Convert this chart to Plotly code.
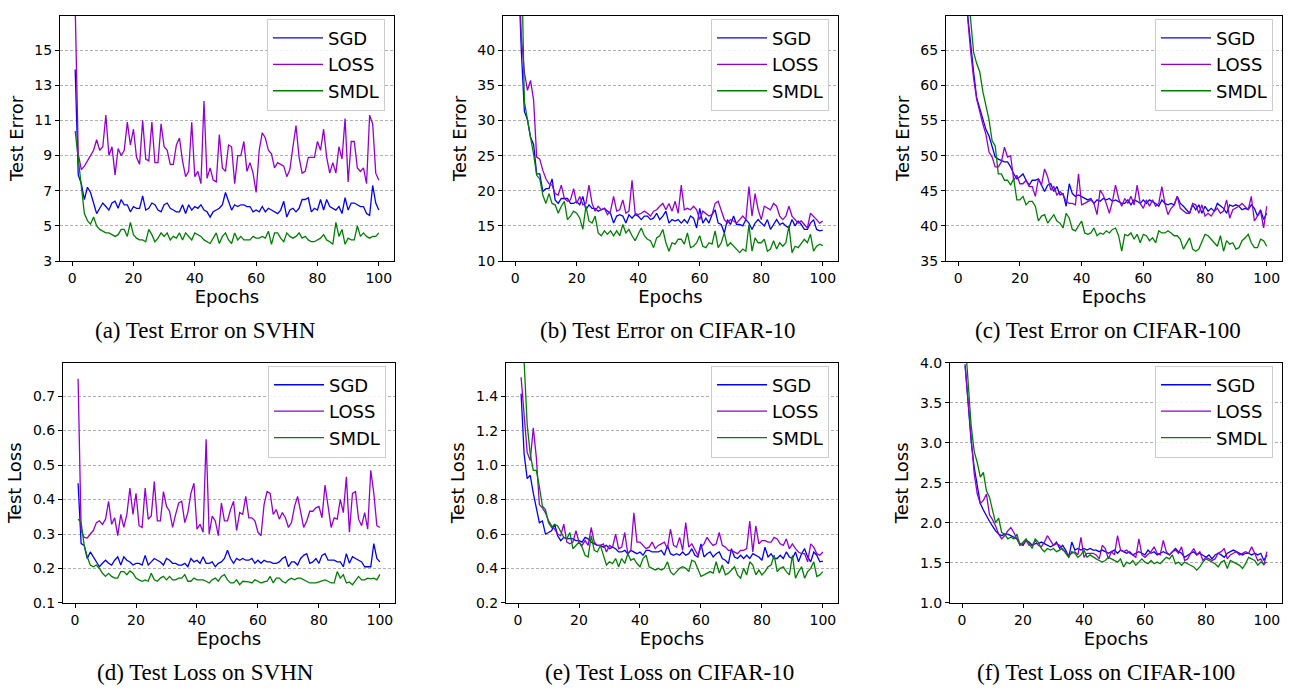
import plotly.graph_objects as go

# ---- data ----
epochs = list(range(1, 101))

sgd_err_svhn = [13.9, 7.9, 7.4, 6.5, 7.2, 6.9, 6.3, 5.7, 6.0, 6.3,
                6.1, 5.9, 6.3, 6.4, 6.0, 6.5, 6.2, 6.2, 5.8, 6.1,
                6.0, 6.0, 6.7, 5.9, 6.0, 6.3, 6.2, 5.9, 5.8, 6.2,
                6.3, 6.0, 5.9, 5.8, 5.8, 6.2, 5.7, 6.2, 5.9, 6.1,
                6.0, 6.2, 5.9, 5.8, 5.5, 5.8, 5.9, 6.0, 6.2, 6.9,
                6.4, 5.9, 6.2, 6.1, 6.2, 6.2, 6.1, 6.1, 5.8, 5.9,
                5.8, 6.1, 5.8, 6.0, 5.9, 5.8, 5.7, 5.9, 6.4, 5.5,
                5.9, 6.0, 5.8, 6.0, 6.5, 6.5, 6.6, 5.8, 6.0, 5.9,
                6.5, 5.9, 6.5, 6.1, 6.0, 5.9, 6.1, 5.7, 6.6, 5.9,
                6.3, 6.3, 6.2, 6.1, 6.1, 5.7, 5.6, 7.3, 6.3, 5.9]
loss_err_svhn = [17.5, 9.1, 8.2, 8.4, 8.7, 9.0, 9.3, 9.9, 9.3, 9.5,
                 11.3, 9.0, 9.5, 7.9, 9.4, 9.0, 9.3, 10.9, 9.6, 10.5,
                 8.9, 8.5, 11.0, 8.8, 8.7, 10.9, 8.6, 8.6, 10.8, 9.5,
                 9.3, 8.5, 8.5, 9.6, 10.0, 8.7, 7.8, 8.1, 10.9, 7.8,
                 8.1, 7.4, 12.1, 7.7, 8.3, 7.6, 7.5, 10.2, 8.3, 8.1,
                 9.6, 9.5, 7.4, 9.0, 9.0, 9.8, 8.1, 8.6, 8.0, 6.9,
                 9.3, 10.3, 10.0, 9.3, 9.1, 8.3, 8.6, 8.5, 8.4, 7.8,
                 8.2, 9.5, 10.7, 8.9, 8.0, 8.1, 8.9, 8.9, 8.9, 9.8,
                 9.3, 10.5, 8.9, 8.0, 8.6, 8.0, 9.5, 8.8, 11.1, 7.5,
                 9.8, 9.8, 8.3, 8.1, 8.3, 7.4, 11.3, 10.8, 8.0, 7.6]
smdl_err_svhn = [10.4, 8.7, 7.0, 5.7, 5.3, 5.1, 5.5, 5.0, 4.8, 4.7,
                 4.6, 4.6, 4.5, 4.4, 4.5, 4.8, 4.8, 4.4, 5.2, 4.5,
                 4.3, 4.2, 4.2, 4.1, 4.8, 4.5, 4.1, 4.3, 4.6, 4.4,
                 4.6, 4.2, 4.4, 4.3, 4.6, 4.2, 4.6, 4.4, 4.2, 4.6,
                 4.5, 4.4, 4.2, 4.1, 4.0, 4.3, 4.6, 4.0, 4.4, 4.6,
                 4.2, 4.0, 4.6, 4.2, 4.4, 4.2, 4.2, 4.2, 4.4, 4.3,
                 4.3, 4.4, 4.3, 4.7, 3.95, 4.6, 4.6, 4.3, 4.1, 4.6,
                 4.4, 4.3, 4.4, 4.6, 4.3, 4.4, 4.2, 4.1, 4.1, 4.2,
                 4.3, 4.5, 4.2, 4.1, 3.95, 5.2, 4.4, 4.8, 3.95, 4.3,
                 4.2, 4.2, 5.0, 4.4, 4.6, 4.4, 4.3, 4.4, 4.4, 4.6]

sgd_err_c10 = [52.0, 40.0, 31.3, 30.1, 27.6, 26.6, 22.4, 22.4, 19.9, 20.3,
               20.3, 21.7, 18.7, 18.2, 18.9, 18.9, 18.9, 18.2, 18.2, 18.5,
               18.0, 19.2, 17.3, 18.0, 17.5, 17.5, 17.1, 17.3, 17.5, 17.1,
               16.8, 15.4, 16.4, 16.6, 16.4, 15.4, 16.6, 16.1, 16.6, 16.4,
               15.9, 16.4, 16.4, 15.9, 16.1, 16.8, 15.9, 16.4, 17.1, 15.4,
               15.9, 15.7, 15.9, 15.4, 15.9, 15.4, 16.4, 16.1, 14.7, 17.5,
               15.4, 16.1, 15.4, 16.6, 17.3, 15.4, 15.2, 14.0, 15.9, 15.2,
               16.4, 15.2, 15.2, 15.0, 15.9, 15.4, 14.5, 15.4, 15.9, 15.4,
               15.0, 15.9, 14.5, 15.2, 15.9, 15.2, 15.4, 15.0, 14.7, 15.9,
               15.0, 15.7, 15.2, 14.5, 14.5, 15.4, 15.9, 14.5, 14.3, 14.4]
loss_err_c10 = [55.0, 42.0, 36.9, 34.3, 35.7, 32.9, 24.8, 24.5, 22.9, 21.7,
                21.0, 20.8, 19.6, 19.4, 20.8, 18.9, 18.5, 18.7, 20.3, 18.2,
                19.2, 18.0, 18.2, 20.8, 18.2, 17.1, 17.8, 17.3, 17.5, 16.6,
                17.1, 19.2, 17.1, 17.3, 18.7, 16.8, 17.1, 21.5, 16.8, 16.6,
                16.8, 17.1, 16.8, 16.4, 17.1, 17.3, 17.8, 18.2, 17.3, 18.2,
                17.1, 18.5, 16.8, 20.8, 17.3, 17.5, 17.3, 17.8, 17.3, 15.9,
                17.1, 16.8, 16.4, 16.6, 18.2, 18.5, 17.3, 15.9, 15.4, 15.9,
                15.7, 15.4, 15.9, 16.4, 15.9, 20.6, 16.4, 19.6, 17.3, 15.9,
                17.8, 17.5, 17.3, 18.2, 17.8, 16.4, 15.9, 16.4, 17.8, 16.4,
                15.9, 15.4, 15.7, 15.2, 14.7, 16.8, 16.4, 15.9, 15.4, 15.7]
smdl_err_c10 = [65.0, 55.0, 32.7, 29.9, 27.6, 25.2, 22.2, 21.7, 19.4, 18.2,
                19.6, 18.2, 18.0, 16.8, 17.8, 18.5, 15.9, 16.4, 17.1, 16.8,
                16.1, 14.5, 17.8, 15.7, 15.4, 16.4, 14.0, 13.6, 14.3, 13.8,
                14.3, 13.6, 14.3, 13.6, 15.2, 14.0, 14.5, 13.6, 12.9, 13.8,
                14.7, 13.6, 13.1, 12.9, 11.9, 13.3, 13.6, 14.5, 12.6, 11.4,
                12.6, 12.4, 13.1, 13.1, 12.4, 14.0, 11.9, 12.1, 12.6, 13.6,
                12.1, 11.9, 12.6, 12.4, 14.3, 11.9, 12.6, 14.0, 12.1, 12.6,
                12.1, 11.7, 11.2, 11.7, 11.4, 15.2, 11.4, 13.3, 12.6, 12.6,
                13.1, 11.4, 11.7, 12.9, 11.7, 12.6, 12.1, 12.6, 15.0, 11.2,
                12.1, 11.9, 12.6, 13.1, 12.6, 13.8, 11.4, 12.1, 12.4, 12.2]

sgd_err_c100 = [85.0, 76.0, 70.3, 65.7, 61.9, 58.2, 56.8, 55.1, 53.7, 52.8,
                51.2, 49.8, 49.5, 49.3, 49.1, 49.1, 48.4, 47.4, 46.7, 47.0,
                47.4, 46.5, 45.8, 46.5, 46.5, 46.7, 45.8, 44.9, 45.8, 46.0,
                44.9, 45.6, 44.4, 44.6, 42.8, 46.0, 44.6, 44.2, 44.4, 44.2,
                43.9, 43.7, 43.9, 43.2, 43.7, 43.5, 43.9, 43.7, 43.9, 43.5,
                43.7, 43.5, 43.2, 43.2, 43.7, 43.0, 43.7, 43.5, 43.2, 43.7,
                43.2, 43.7, 43.5, 43.2, 42.8, 43.7, 43.2, 43.0, 43.2, 43.0,
                44.2, 43.2, 42.8, 42.3, 41.8, 43.0, 42.3, 43.0, 41.8, 42.8,
                42.1, 42.5, 42.1, 43.2, 42.8, 42.5, 41.8, 43.0, 42.8, 43.0,
                42.8, 42.3, 42.5, 42.3, 43.0, 42.5, 41.4, 42.3, 40.9, 41.8]
loss_err_c100 = [86.0, 77.0, 70.0, 65.0, 61.0, 58.0, 56.0, 54.5, 53.0, 50.5,
                 49.8, 48.4, 48.4, 49.1, 51.2, 49.8, 50.0, 46.5, 47.2, 46.0,
                 46.0, 46.5, 45.6, 45.6, 44.2, 46.7, 45.8, 48.1, 47.0, 45.1,
                 45.6, 44.4, 44.9, 44.4, 43.5, 43.2, 43.2, 43.0, 47.4, 43.0,
                 43.2, 43.5, 43.7, 43.2, 41.6, 45.1, 44.4, 43.2, 41.8, 43.5,
                 45.8, 43.9, 42.8, 43.9, 43.2, 44.2, 43.0, 45.8, 43.2, 42.5,
                 43.7, 42.8, 43.7, 42.8, 43.2, 45.6, 43.2, 41.6, 42.5, 43.0,
                 44.2, 42.5, 42.1, 41.8, 41.8, 43.2, 43.0, 41.8, 43.0, 41.4,
                 41.8, 41.4, 42.1, 42.5, 41.8, 42.1, 43.7, 41.1, 42.3, 42.5,
                 42.8, 43.2, 42.8, 42.3, 44.2, 40.7, 41.4, 42.1, 39.7, 42.8]
smdl_err_c100 = [90.0, 80.0, 74.0, 69.5, 64.7, 63.1, 61.9, 59.1, 57.2, 55.1,
                 52.1, 51.4, 47.4, 47.4, 46.5, 46.5, 45.8, 46.7, 43.7, 43.7,
                 44.2, 43.0, 43.5, 43.5, 42.8, 40.7, 41.4, 41.6, 40.4, 41.1,
                 41.6, 40.7, 40.4, 39.7, 41.8, 41.1, 39.5, 39.3, 40.0, 40.7,
                 39.0, 38.8, 39.0, 39.7, 38.6, 39.0, 38.8, 39.3, 39.0, 39.5,
                 39.7, 38.6, 36.4, 38.8, 38.6, 39.0, 38.1, 38.8, 37.6, 38.8,
                 38.6, 37.9, 38.3, 37.6, 39.3, 39.0, 39.0, 39.3, 39.0, 38.6,
                 38.6, 38.1, 36.7, 37.6, 38.3, 36.7, 36.4, 36.7, 37.9, 38.8,
                 38.6, 38.1, 37.6, 37.1, 38.6, 36.4, 37.9, 37.4, 37.6, 36.7,
                 36.9, 37.9, 38.3, 38.8, 37.6, 36.9, 36.9, 38.1, 37.9, 37.1]

sgd_loss_svhn = [0.447, 0.272, 0.267, 0.229, 0.248, 0.234, 0.219, 0.205, 0.215, 0.224,
                 0.215, 0.210, 0.224, 0.234, 0.210, 0.234, 0.224, 0.219, 0.210, 0.215,
                 0.215, 0.210, 0.238, 0.210, 0.219, 0.229, 0.224, 0.219, 0.210, 0.229,
                 0.224, 0.215, 0.215, 0.210, 0.210, 0.215, 0.205, 0.229, 0.219, 0.224,
                 0.215, 0.234, 0.215, 0.215, 0.219, 0.205, 0.215, 0.219, 0.229, 0.253,
                 0.229, 0.215, 0.229, 0.224, 0.229, 0.224, 0.224, 0.229, 0.215, 0.224,
                 0.215, 0.224, 0.219, 0.219, 0.215, 0.215, 0.219, 0.229, 0.234, 0.205,
                 0.219, 0.219, 0.210, 0.229, 0.238, 0.243, 0.215, 0.219, 0.229, 0.215,
                 0.238, 0.243, 0.224, 0.224, 0.224, 0.219, 0.219, 0.205, 0.243, 0.215,
                 0.234, 0.229, 0.224, 0.219, 0.205, 0.205, 0.205, 0.272, 0.229, 0.219]
loss_loss_svhn = [0.750, 0.310, 0.290, 0.288, 0.300, 0.310, 0.333, 0.338, 0.328, 0.343,
                  0.395, 0.328, 0.347, 0.295, 0.357, 0.319, 0.357, 0.433, 0.357, 0.418,
                  0.324, 0.319, 0.433, 0.343, 0.352, 0.452, 0.338, 0.338, 0.423, 0.380,
                  0.366, 0.319, 0.357, 0.390, 0.395, 0.333, 0.362, 0.418, 0.447, 0.314,
                  0.328, 0.305, 0.575, 0.300, 0.352, 0.338, 0.295, 0.390, 0.338, 0.338,
                  0.371, 0.395, 0.310, 0.362, 0.357, 0.409, 0.347, 0.347, 0.338, 0.305,
                  0.295, 0.385, 0.423, 0.418, 0.357, 0.371, 0.343, 0.362, 0.347, 0.319,
                  0.333, 0.380, 0.409, 0.362, 0.319, 0.338, 0.366, 0.366, 0.376, 0.380,
                  0.347, 0.442, 0.376, 0.319, 0.347, 0.343, 0.400, 0.362, 0.466, 0.305,
                  0.418, 0.423, 0.343, 0.324, 0.362, 0.314, 0.485, 0.418, 0.324, 0.319]
smdl_loss_svhn = [0.343, 0.333, 0.267, 0.234, 0.210, 0.205, 0.210, 0.200, 0.186, 0.177,
                  0.186, 0.177, 0.172, 0.172, 0.191, 0.191, 0.182, 0.193, 0.186, 0.172,
                  0.167, 0.163, 0.167, 0.163, 0.186, 0.167, 0.163, 0.172, 0.177, 0.167,
                  0.177, 0.167, 0.167, 0.172, 0.172, 0.182, 0.163, 0.163, 0.172, 0.167,
                  0.167, 0.167, 0.163, 0.158, 0.167, 0.172, 0.163, 0.177, 0.182, 0.167,
                  0.158, 0.158, 0.167, 0.153, 0.163, 0.163, 0.161, 0.158, 0.167, 0.163,
                  0.158, 0.161, 0.163, 0.177, 0.158, 0.172, 0.172, 0.163, 0.158, 0.167,
                  0.172, 0.167, 0.172, 0.172, 0.167, 0.163, 0.158, 0.158, 0.158, 0.161,
                  0.163, 0.167, 0.163, 0.158, 0.158, 0.191, 0.172, 0.182, 0.158, 0.161,
                  0.153, 0.167, 0.177, 0.167, 0.167, 0.172, 0.170, 0.172, 0.167, 0.183]

sgd_loss_c10 = [1.415, 1.064, 0.922, 0.941, 0.837, 0.742, 0.666, 0.676, 0.600, 0.609,
                0.619, 0.657, 0.590, 0.562, 0.581, 0.572, 0.575, 0.572, 0.562, 0.562,
                0.553, 0.581, 0.572, 0.553, 0.543, 0.534, 0.534, 0.524, 0.534, 0.515,
                0.524, 0.515, 0.496, 0.496, 0.505, 0.486, 0.505, 0.496, 0.486, 0.496,
                0.477, 0.505, 0.505, 0.496, 0.496, 0.496, 0.505, 0.477, 0.534, 0.486,
                0.477, 0.486, 0.477, 0.496, 0.477, 0.486, 0.515, 0.477, 0.467, 0.543,
                0.467, 0.486, 0.496, 0.467, 0.486, 0.496, 0.458, 0.448, 0.429, 0.515,
                0.467, 0.458, 0.477, 0.458, 0.477, 0.458, 0.486, 0.477, 0.467, 0.448,
                0.524, 0.467, 0.486, 0.458, 0.458, 0.477, 0.458, 0.496, 0.467, 0.458,
                0.496, 0.439, 0.486, 0.515, 0.467, 0.439, 0.496, 0.477, 0.439, 0.443]
loss_loss_c10 = [1.510, 1.292, 1.074, 1.027, 1.216, 1.045, 0.771, 0.752, 0.723, 0.676,
                 0.647, 0.628, 0.600, 0.590, 0.657, 0.553, 0.543, 0.553, 0.619, 0.553,
                 0.534, 0.562, 0.534, 0.638, 0.553, 0.534, 0.534, 0.543, 0.496, 0.534,
                 0.524, 0.600, 0.515, 0.524, 0.609, 0.486, 0.505, 0.723, 0.553, 0.553,
                 0.534, 0.515, 0.524, 0.553, 0.515, 0.534, 0.543, 0.553, 0.515, 0.628,
                 0.534, 0.524, 0.581, 0.505, 0.666, 0.524, 0.543, 0.505, 0.477, 0.524,
                 0.543, 0.581, 0.553, 0.534, 0.543, 0.609, 0.534, 0.524, 0.505, 0.505,
                 0.496, 0.486, 0.505, 0.505, 0.515, 0.676, 0.496, 0.647, 0.543, 0.562,
                 0.562, 0.553, 0.553, 0.581, 0.572, 0.543, 0.534, 0.572, 0.515, 0.543,
                 0.515, 0.496, 0.486, 0.486, 0.439, 0.543, 0.524, 0.486, 0.477, 0.496]
smdl_loss_c10 = [1.750, 1.600, 1.235, 1.064, 0.970, 0.970, 0.875, 0.761, 0.742, 0.666,
                 0.638, 0.657, 0.647, 0.609, 0.581, 0.572, 0.609, 0.515, 0.534, 0.553,
                 0.524, 0.477, 0.467, 0.591, 0.505, 0.496, 0.534, 0.477, 0.420, 0.439,
                 0.429, 0.458, 0.410, 0.458, 0.429, 0.486, 0.448, 0.458, 0.429, 0.410,
                 0.458, 0.477, 0.410, 0.401, 0.391, 0.401, 0.391, 0.401, 0.439, 0.382,
                 0.363, 0.382, 0.401, 0.410, 0.401, 0.382, 0.448, 0.439, 0.401, 0.354,
                 0.363, 0.373, 0.382, 0.373, 0.439, 0.373, 0.420, 0.363, 0.373, 0.391,
                 0.410, 0.363, 0.344, 0.401, 0.363, 0.439, 0.420, 0.363, 0.391, 0.363,
                 0.382, 0.410, 0.420, 0.477, 0.382, 0.401, 0.410, 0.382, 0.363, 0.477,
                 0.344, 0.382, 0.410, 0.344, 0.382, 0.401, 0.439, 0.354, 0.363, 0.382]

sgd_loss_c100 = [3.98, 3.54, 3.01, 2.69, 2.45, 2.24, 2.16, 2.08, 2.02, 1.96,
                 1.90, 1.86, 1.84, 1.86, 1.86, 1.84, 1.82, 1.80, 1.74, 1.72,
                 1.78, 1.76, 1.72, 1.74, 1.74, 1.76, 1.74, 1.72, 1.70, 1.72,
                 1.76, 1.68, 1.72, 1.66, 1.57, 1.76, 1.66, 1.68, 1.66, 1.68,
                 1.66, 1.68, 1.66, 1.66, 1.64, 1.66, 1.64, 1.62, 1.64, 1.66,
                 1.62, 1.66, 1.64, 1.62, 1.64, 1.60, 1.62, 1.64, 1.62, 1.60,
                 1.66, 1.62, 1.64, 1.60, 1.62, 1.64, 1.62, 1.60, 1.64, 1.68,
                 1.64, 1.62, 1.57, 1.60, 1.62, 1.64, 1.60, 1.62, 1.60, 1.57,
                 1.60, 1.55, 1.60, 1.62, 1.60, 1.57, 1.62, 1.64, 1.66, 1.64,
                 1.62, 1.60, 1.62, 1.62, 1.60, 1.62, 1.60, 1.62, 1.53, 1.60]
loss_loss_c100 = [3.96, 3.50, 2.97, 2.61, 2.36, 2.24, 2.28, 2.36, 2.10, 2.04,
                  1.96, 1.86, 1.80, 1.84, 1.90, 1.94, 1.88, 1.80, 1.72, 1.74,
                  1.78, 1.72, 1.72, 1.78, 1.72, 1.70, 1.76, 1.84, 1.78, 1.72,
                  1.74, 1.72, 1.66, 1.64, 1.60, 1.62, 1.64, 1.60, 1.82, 1.57,
                  1.62, 1.62, 1.62, 1.60, 1.55, 1.72, 1.68, 1.55, 1.64, 1.60,
                  1.84, 1.66, 1.64, 1.66, 1.62, 1.60, 1.57, 1.80, 1.60, 1.57,
                  1.60, 1.64, 1.70, 1.62, 1.60, 1.78, 1.64, 1.60, 1.64, 1.66,
                  1.62, 1.70, 1.53, 1.55, 1.62, 1.68, 1.60, 1.64, 1.53, 1.57,
                  1.55, 1.53, 1.55, 1.62, 1.64, 1.68, 1.55, 1.60, 1.62, 1.64,
                  1.60, 1.62, 1.64, 1.62, 1.70, 1.62, 1.53, 1.55, 1.47, 1.64]
smdl_loss_c100 = [4.30, 3.74, 3.21, 2.89, 2.75, 2.57, 2.63, 2.40, 2.32, 2.16,
                  2.00, 2.06, 1.88, 1.86, 1.80, 1.82, 1.80, 1.86, 1.72, 1.76,
                  1.80, 1.74, 1.68, 1.80, 1.76, 1.68, 1.64, 1.68, 1.66, 1.68,
                  1.64, 1.66, 1.68, 1.62, 1.57, 1.64, 1.62, 1.57, 1.60, 1.66,
                  1.57, 1.60, 1.57, 1.55, 1.53, 1.51, 1.53, 1.57, 1.55, 1.53,
                  1.51, 1.55, 1.45, 1.51, 1.49, 1.53, 1.47, 1.51, 1.55, 1.51,
                  1.49, 1.53, 1.49, 1.51, 1.49, 1.53, 1.57, 1.55, 1.60, 1.49,
                  1.51, 1.47, 1.51, 1.49, 1.47, 1.45, 1.41, 1.45, 1.51, 1.55,
                  1.53, 1.51, 1.49, 1.45, 1.51, 1.53, 1.43, 1.53, 1.51, 1.49,
                  1.47, 1.43, 1.49, 1.57, 1.55, 1.53, 1.47, 1.51, 1.49, 1.51]

methods = ["SGD", "LOSS", "SMDL"]
colors = {"SGD": "#0000ff", "LOSS": "#9400d3", "SMDL": "#008000"}
captions = ["(a) Test Error on SVHN", "(b) Test Error on CIFAR-10", "(c) Test Error on CIFAR-100",
            "(d) Test Loss on SVHN", "(e) Test Loss on CIFAR-10", "(f) Test Loss on CIFAR-100"]
ytitles = ["Test Error"] * 3 + ["Test Loss"] * 3
series = [
    (sgd_err_svhn, loss_err_svhn, smdl_err_svhn),
    (sgd_err_c10, loss_err_c10, smdl_err_c10),
    (sgd_err_c100, loss_err_c100, smdl_err_c100),
    (sgd_loss_svhn, loss_loss_svhn, smdl_loss_svhn),
    (sgd_loss_c10, loss_loss_c10, smdl_loss_c10),
    (sgd_loss_c100, loss_loss_c100, smdl_loss_c100),
]

# ---- layout (pixel boxes of each panel: left, top, right, bottom) ----
W, H = 1289, 694
boxes = [(60, 8, 394, 259), (503, 8, 838, 259), (946, 8, 1282, 259),
         (63, 363, 395, 609), (506, 363, 838, 609), (950, 363, 1282, 609)]
caption_x = [205, 668, 1108, 205, 669, 1106]
yranges = [[3, 16.95], [10, 44.9], [35, 69.9], [0.1, 0.797], [0.2, 1.595], [1.0, 4.0]]
ydticks = [2, 5, 5, 0.1, 0.2, 0.5]
yfmts = ["d", "d", "d", ".1f", ".1f", ".1f"]

fig = go.Figure()
font_main = "DejaVu Sans"

for i in range(6):
    n = "" if i == 0 else str(i + 1)
    l, t, r, b = boxes[i]
    for name, ys in zip(methods, series[i]):
        fig.add_trace(go.Scatter(
            x=epochs, y=ys, mode="lines", name=name,
            line=dict(color=colors[name], width=1.3),
            xaxis="x" + n, yaxis="y" + n,
            legend="legend" + n, legendgroup=name + n,
        ))

    fig.layout["xaxis" + n] = dict(
        domain=[l / W, r / W], anchor="y" + n,
        range=[-3.95, 104.95], tickvals=[0, 20, 40, 60, 80, 100],
        showgrid=False, zeroline=False,
        showline=True, linecolor="black", linewidth=1, mirror=True,
        ticks="outside", ticklen=4, tickcolor="black",
        tickfont=dict(family=font_main, size=14, color="black"),
        title=dict(text="Epochs", font=dict(family=font_main, size=18, color="black"), standoff=4),
    )
    fig.layout["yaxis" + n] = dict(
        domain=[1 - b / H, 1 - t / H], anchor="x" + n,
        range=yranges[i], tick0=yranges[i][0], dtick=ydticks[i], tickformat=yfmts[i],
        showgrid=True, gridcolor="#b0b0b0", griddash="3px,2px", gridwidth=0.8,
        zeroline=False,
        showline=True, linecolor="black", linewidth=1, mirror=True,
        ticks="outside", ticklen=4, tickcolor="black",
        tickfont=dict(family=font_main, size=14, color="black"),
        title=dict(text=ytitles[i], font=dict(family=font_main, size=18, color="black"), standoff=6),
    )
    fig.layout["legend" + n] = dict(
        x=(r - 9) / W, y=1 - (t + 3) / H, xanchor="right", yanchor="top",
        bgcolor="rgba(255,255,255,0.85)", bordercolor="#cccccc", borderwidth=1,
        font=dict(family=font_main, size=18, color="black"),
        tracegroupgap=0, itemwidth=50,
    )
    fig.add_annotation(
        text=captions[i], xref="paper", yref="paper",
        x=caption_x[i] / W, y=1 - (b + 71) / H,
        xanchor="center", yanchor="middle", showarrow=False,
        font=dict(family="Liberation Serif", size=23, color="black"),
    )

fig.update_layout(
    width=W, height=H,
    margin=dict(l=0, r=0, t=0, b=0),
    plot_bgcolor="white", paper_bgcolor="white",
    showlegend=True,
)

fig.write_html("out.html", config={"displayModeBar": False},
               post_script="document.body.style.margin='0';")
